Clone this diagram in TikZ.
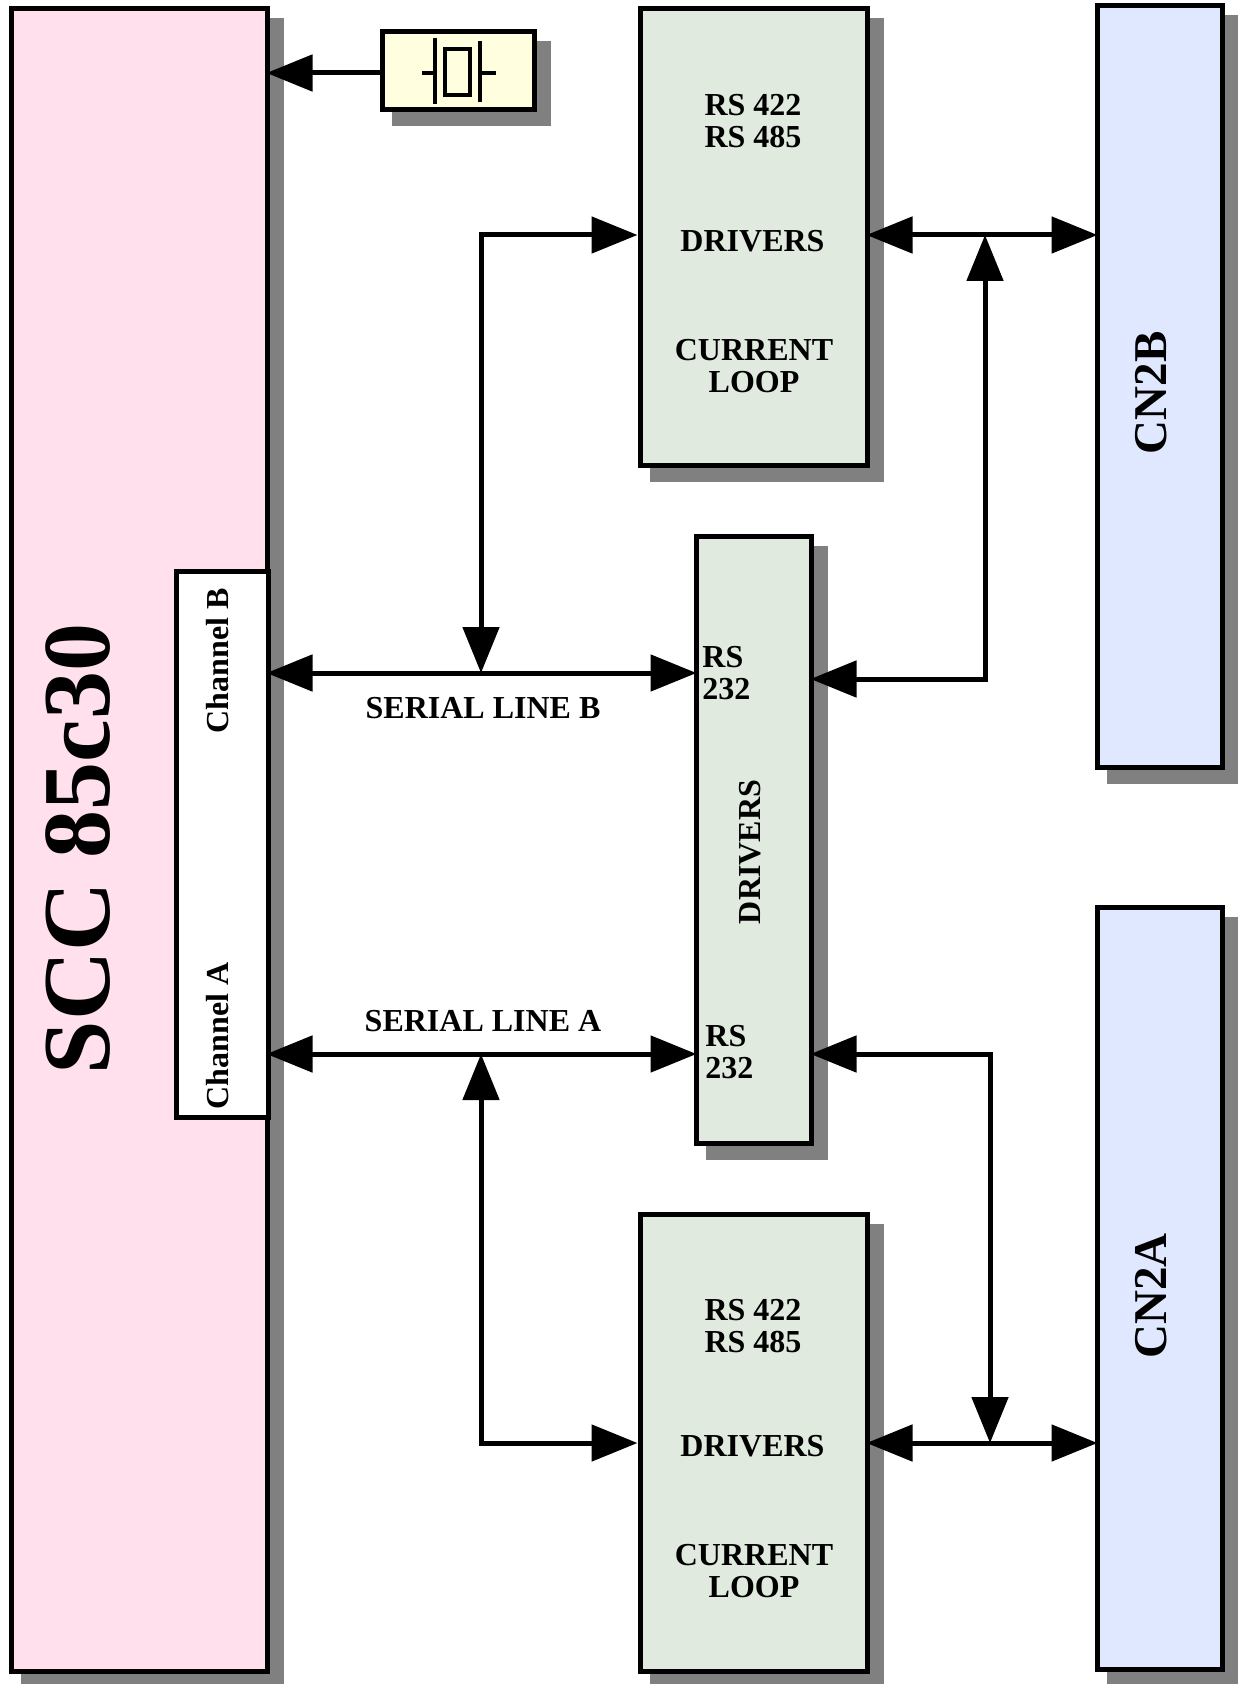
\documentclass[tikz,border=0pt]{standalone}
\usepackage{fontspec}
\setmainfont{Liberation Serif}
\usetikzlibrary{arrows.meta,backgrounds}
\definecolor{sccpink}{HTML}{FFE0EC}
\definecolor{drvgreen}{HTML}{E0EADF}
\definecolor{cnblue}{HTML}{DFE8FF}
\definecolor{xtalyellow}{HTML}{FFFFE0}
\tikzset{
  box/.style={draw,line width=2.5pt,inner sep=0pt,rectangle},
  boxshadow/.style={fill=black!50},
  lbl/.style={inner sep=0pt,font=\fontsize{16}{16}\selectfont\bfseries},
  biglbl/.style={inner sep=0pt,rotate=90,font=\fontsize{23.5}{24}\selectfont\bfseries},
  wire/.style={line width=2.5pt,shorten >=-1.5pt,shorten <=-1.5pt,{Triangle[length=23pt,width=18pt]}-{Triangle[length=23pt,width=18pt]}},
  wireto/.style={line width=2.5pt,shorten >=-1.5pt,-{Triangle[length=23pt,width=18pt]}},
  xtalline/.style={line width=2.4pt}
}
\begin{document}
\begin{tikzpicture}[x=0.5pt,y=-0.5pt]
      \useasboundingbox (0,0) rectangle (1237,1684);

      % BOXES
      \node[box,fill=sccpink,minimum width=128pt,minimum height=831pt] (scc) at (139,840) {};
      \node[box,fill=white,minimum width=46pt,minimum height=273pt] (chan) at (222,844) {};
      \node[box,fill=xtalyellow,minimum width=76pt,minimum height=39pt] (xtal) at (458,71) {};
      \node[box,fill=drvgreen,minimum width=113.5pt,minimum height=228pt] (drvb) at (753.5,237) {};
      \node[box,fill=drvgreen,minimum width=57.5pt,minimum height=303.5pt] (drvmid) at (753.5,839.5) {};
      \node[box,fill=drvgreen,minimum width=113.5pt,minimum height=228.5pt] (drva) at (753.5,1442.5) {};
      \node[box,fill=cnblue,minimum width=62.5pt,minimum height=380.5pt] (cnb) at (1159.5,386.5) {};
      \node[box,fill=cnblue,minimum width=62.5pt,minimum height=381pt] (cna) at (1159.5,1288) {};

      % SHADOWS
      \begin{pgfonlayer}{background}
        \foreach \n in {scc,xtal,drvb,drvmid,drva,cnb,cna}
          \fill[boxshadow] ([shift={(12,12)}]\n.north west) rectangle ([shift={(14,14)}]\n.south east);
      \end{pgfonlayer}

      % CRYSTAL
      \draw[xtalline] (422,73) -- (435,73);
      \draw[xtalline] (435,38) -- (435,104);
      \draw[xtalline] (445,49) rectangle (470,95);
      \draw[xtalline] (480,41) -- (480,102);
      \draw[xtalline] (480,73) -- (496,73);

      % ARROWS
      \coordinate (lineb) at (481,673);
      \coordinate (linea) at (481,1054);
      \coordinate (topl) at (481,235);
      \coordinate (botl) at (481,1443);
      \coordinate (topr) at (985,235);
      \coordinate (midb) at (985,679);
      \coordinate (mida) at (990,1054);
      \coordinate (botr) at (990,1443);

      \draw[wireto] (xtal.west |- 0,73) -- (scc.east |- 0,73);
      \draw[wire] (scc.east |- lineb) -- (drvmid.west |- lineb);
      \draw[wire] (scc.east |- linea) -- (drvmid.west |- linea);
      \draw[wire,shorten <=0pt,shorten >=0pt] (lineb) -- (topl) -- (drvb.west |- topl);
      \draw[wire,shorten <=0pt,shorten >=0pt] (linea) -- (botl) -- (drva.west |- botl);
      \draw[wire] (drvb.east |- topl) -- (cnb.west |- topl);
      \draw[wire] (drva.east |- botl) -- (cna.west |- botl);
      \draw[wire,shorten <=0pt] (topr) -- (midb) -- (drvmid.east |- midb);
      \draw[wire,shorten <=0pt] (botr) -- (mida) -- (drvmid.east |- mida);

      % NOTES
      \node[inner sep=0pt,rotate=90,font=\fontsize{48}{48}\selectfont\bfseries] (scclbl) at (78,849) {SCC 85c30};
      \node[lbl,rotate=90] (chanb) at (218,661) {Channel B};
      \node[lbl,rotate=90] (chana) at (218,1036) {Channel A};
      \node[lbl] (serb) at (483,708) {SERIAL LINE B};
      \node[lbl] (sera) at (483,1021) {SERIAL LINE A};

      \node[lbl,align=center] (rsb) at (753,121) {RS 422\\RS 485};
      \node[lbl] (drvbl) at (752.5,241) {DRIVERS};
      \node[lbl,align=center] (curb) at (754,366) {CURRENT\\LOOP};

      \node[lbl,align=center] (rsa) at (753,1326) {RS 422\\RS 485};
      \node[lbl] (drval) at (752.5,1446) {DRIVERS};
      \node[lbl,align=center] (cura) at (754,1571) {CURRENT\\LOOP};

      \node[lbl,rotate=90] (drvml) at (750,852) {DRIVERS};
      \node[lbl,align=left,anchor=west] (rs2b) at (702,673) {RS\\232};
      \node[lbl,align=left,anchor=west] (rs2a) at (705,1052) {RS\\232};

      \node[biglbl] (cnbl) at (1151,393) {CN2B};
      \node[biglbl] (cnal) at (1151,1296) {CN2A};
\end{tikzpicture}
\end{document}
